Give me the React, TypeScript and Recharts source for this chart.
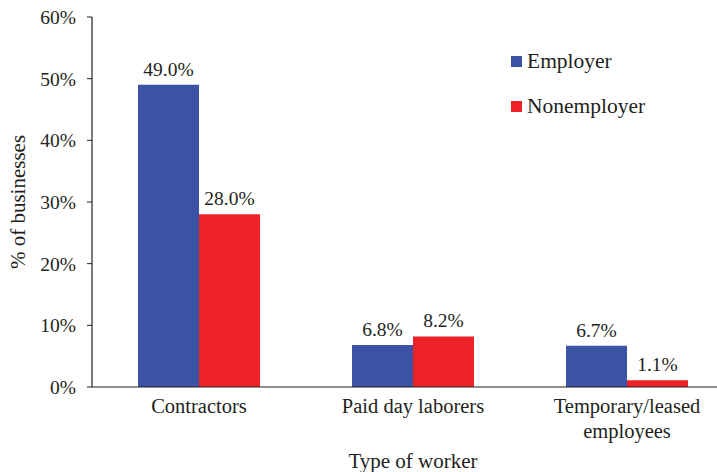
import React from 'react';
import { BarChart, Bar, XAxis, YAxis, LabelList, Label, Text } from 'recharts';

const categories = ['Contractors', 'Paid day laborers', 'Temporary/leased employees'];
const employer = [49.0, 6.8, 6.7];
const nonemployer = [28.0, 8.2, 1.1];
const yTicks = [0, 10, 20, 30, 40, 50, 60];
const boundaryTicks = [0, 1, 2, 3];

const BLUE = '#3A53A4';
const RED = '#EE2226';
const FONT = 'Liberation Serif, Times New Roman, Times, serif';
const TEXT = '#231F20';

const data = categories.map((name, i) => ({
  name,
  employer: employer[i],
  nonemployer: nonemployer[i],
}));

const CategoryTick = (props: any) => {
  const { x, y, payload } = props;
  return (
    <Text
      x={x}
      y={y + 3}
      width={170}
      textAnchor="middle"
      verticalAnchor="start"
      lineHeight={25}
      style={{ fontSize: 20.5, fontFamily: FONT }}
      fill={TEXT}
    >
      {payload.value}
    </Text>
  );
};

const legendItems = [
  { label: 'Employer', color: BLUE },
  { label: 'Nonemployer', color: RED },
];

export default function App() {
  return (
    <div style={{ position: 'absolute', left: 0, top: 0, width: 717, height: 472, overflow: 'hidden', background: '#fff', fontFamily: FONT }}>
      <BarChart
        width={760}
        height={472}
        data={data}
        margin={{ top: 17, right: 26, left: 0, bottom: 0 }}
        barCategoryGap="21.5%"
        barGap={0}
        style={{ fontFamily: FONT }}
      >
        <XAxis
          dataKey="name"
          xAxisId="cat"
          height={85}
          tickLine={false}
          axisLine={{ stroke: TEXT, strokeWidth: 1.2 }}
          tick={<CategoryTick />}
          interval={0}
        >
          <Label
            value="Type of worker"
            position="insideBottom"
            offset={4}
            style={{ fontFamily: FONT, fontSize: 21, fill: TEXT }}
          />
        </XAxis>
        <XAxis
          xAxisId="bounds"
          type="number"
          domain={[0, 3]}
          ticks={boundaryTicks}
          tick={false}
          tickSize={6}
          tickLine={{ stroke: TEXT }}
          axisLine={false}
          height={0}
          allowDataOverflow
        />
        <YAxis
          width={92}
          domain={[0, 60]}
          ticks={yTicks}
          interval={0}
          tickFormatter={(v: number) => `${v}%`}
          tickSize={5}
          tickMargin={11}
          tickLine={{ stroke: TEXT }}
          axisLine={{ stroke: TEXT, strokeWidth: 1.2 }}
          tick={{ fontFamily: FONT, fontSize: 19.5, fill: TEXT }}
        >
          <Label
            value="% of businesses"
            angle={-90}
            position="insideLeft"
            offset={18}
            style={{ fontFamily: FONT, fontSize: 21, fill: TEXT, textAnchor: 'middle' }}
          />
        </YAxis>
        <Bar dataKey="employer" name="Employer" xAxisId="cat" fill={BLUE} isAnimationActive={false}>
          <LabelList
            dataKey="employer"
            position="top"
            offset={9}
            formatter={(v: any) => `${Number(v).toFixed(1)}%`}
            style={{ fontFamily: FONT, fontSize: 19.5, fill: TEXT }}
          />
        </Bar>
        <Bar dataKey="nonemployer" name="Nonemployer" xAxisId="cat" fill={RED} isAnimationActive={false}>
          <LabelList
            dataKey="nonemployer"
            position="top"
            offset={9}
            formatter={(v: any) => `${Number(v).toFixed(1)}%`}
            style={{ fontFamily: FONT, fontSize: 19.5, fill: TEXT }}
          />
        </Bar>
      </BarChart>
      <div style={{ position: 'absolute', left: 511, top: 48, fontFamily: FONT, fontSize: 21.5, color: TEXT }}>
        {legendItems.map((it, i) => (
          <div key={it.label} style={{ display: 'flex', alignItems: 'center', height: 26, marginBottom: i === 0 ? 19 : 0 }}>
            <span style={{ width: 11, height: 11, background: it.color, marginRight: 5, display: 'inline-block' }} />
            <span>{it.label}</span>
          </div>
        ))}
      </div>
    </div>
  );
}
